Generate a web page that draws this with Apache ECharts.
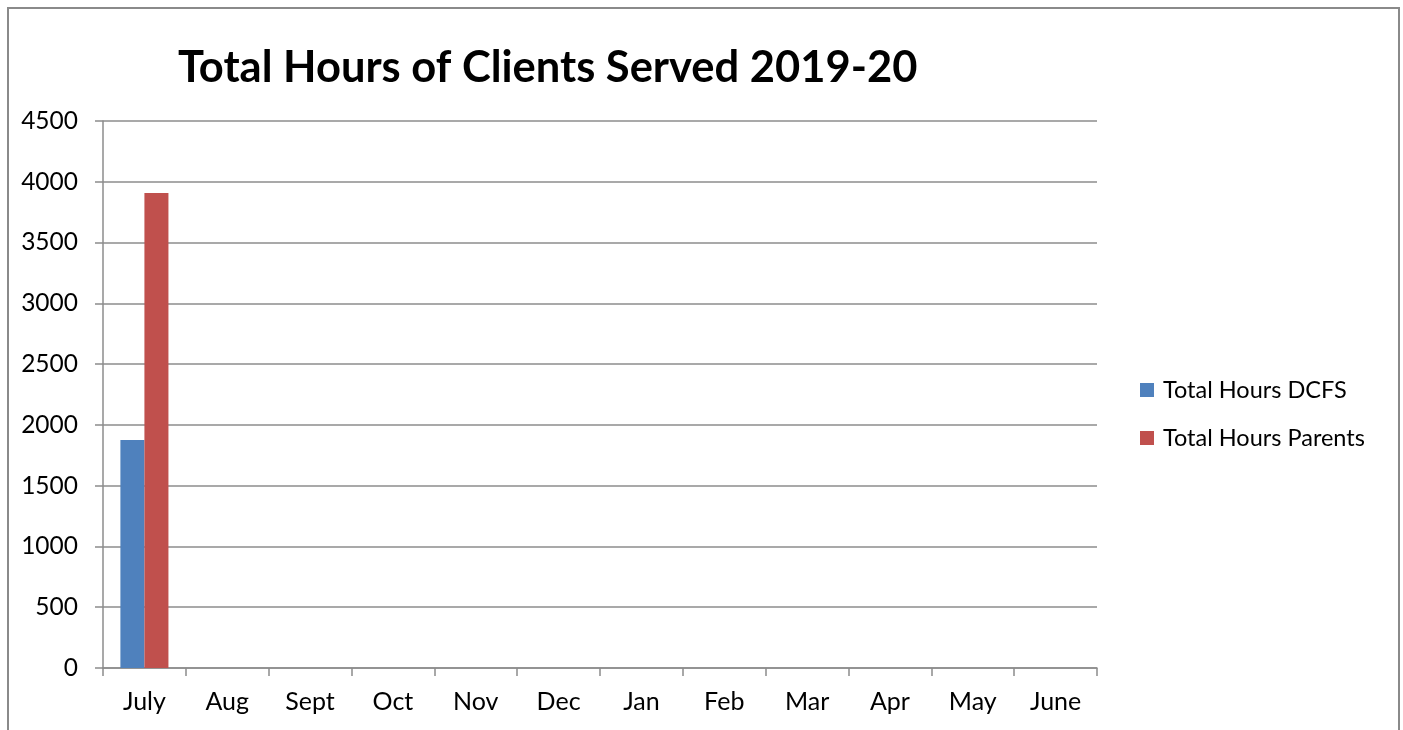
<!DOCTYPE html>
<html>
<head>
<meta charset="utf-8">
<script src="https://cdn.jsdelivr.net/npm/echarts@6/dist/echarts.min.js"></script>
<style>
    html, body { margin: 0; padding: 0; background: #fff; }
    #chart { width: 1403px; height: 730px; }
</style>
</head>
<body>
<div id="chart"></div>
<script>
// data
const months = ['July', 'Aug', 'Sept', 'Oct', 'Nov', 'Dec', 'Jan', 'Feb', 'Mar', 'Apr', 'May', 'June'];
const hoursDCFS = [1875, null, null, null, null, null, null, null, null, null, null, null];
const hoursParents = [3907, null, null, null, null, null, null, null, null, null, null, null];
const seriesNames = ['Total Hours DCFS', 'Total Hours Parents'];
const colorList = ['#4F81BD', '#C0504D'];

const chart = echarts.init(document.getElementById('chart'));
const gridColor = '#8c8c8c';

chart.setOption({
    animation: false,
    textStyle: { fontFamily: 'Lato' },
    title: {
        text: 'Total Hours of Clients Served 2019-20',
        left: 173,
        top: 41,
        textStyle: { fontFamily: 'Lato', fontWeight: 'bold', fontSize: 43.5, color: '#000' }
    },
    graphic: [
        {
            type: 'rect',
            shape: { x: 8, y: 8, width: 1391, height: 760 },
            style: { fill: 'none', stroke: '#8a8a8a', lineWidth: 2 },
            silent: true
        }
    ],
    legend: {
        orient: 'vertical',
        left: 1135,
        top: 373,
        itemWidth: 14,
        itemHeight: 14,
        itemGap: 24,
        icon: 'rect',
        textStyle: { fontFamily: 'Lato', fontSize: 23.5, color: '#000', padding: [0, 0, 0, 4] },
        data: seriesNames
    },
    grid: {
        left: 103,
        right: 306,
        top: 121,
        bottom: 62,
        containLabel: false
    },
    xAxis: {
        type: 'category',
        data: months,
        axisLine: { lineStyle: { color: gridColor, width: 1.5 } },
        axisTick: { show: true, length: 8, alignWithLabel: false, lineStyle: { color: gridColor, width: 1.5 } },
        axisLabel: { color: '#000', fontSize: 25, margin: 21, interval: 0 }
    },
    yAxis: {
        type: 'value',
        min: 0,
        max: 4500,
        interval: 500,
        axisLine: { show: true, lineStyle: { color: gridColor, width: 1.5 } },
        axisTick: { show: true, length: 8, lineStyle: { color: gridColor, width: 1.5 } },
        axisLabel: { color: '#000', fontSize: 24.5, margin: 25, formatter: function (v) { return String(v); } },
        splitLine: { lineStyle: { color: gridColor, width: 1.5 } }
    },
    series: [
        {
            name: seriesNames[0],
            type: 'bar',
            data: hoursDCFS,
            barGap: '0%',
            barCategoryGap: '42%',
            itemStyle: { color: colorList[0] }
        },
        {
            name: seriesNames[1],
            type: 'bar',
            data: hoursParents,
            barGap: '0%',
            barCategoryGap: '42%',
            itemStyle: { color: colorList[1] }
        }
    ]
});
</script>
</body>
</html>
